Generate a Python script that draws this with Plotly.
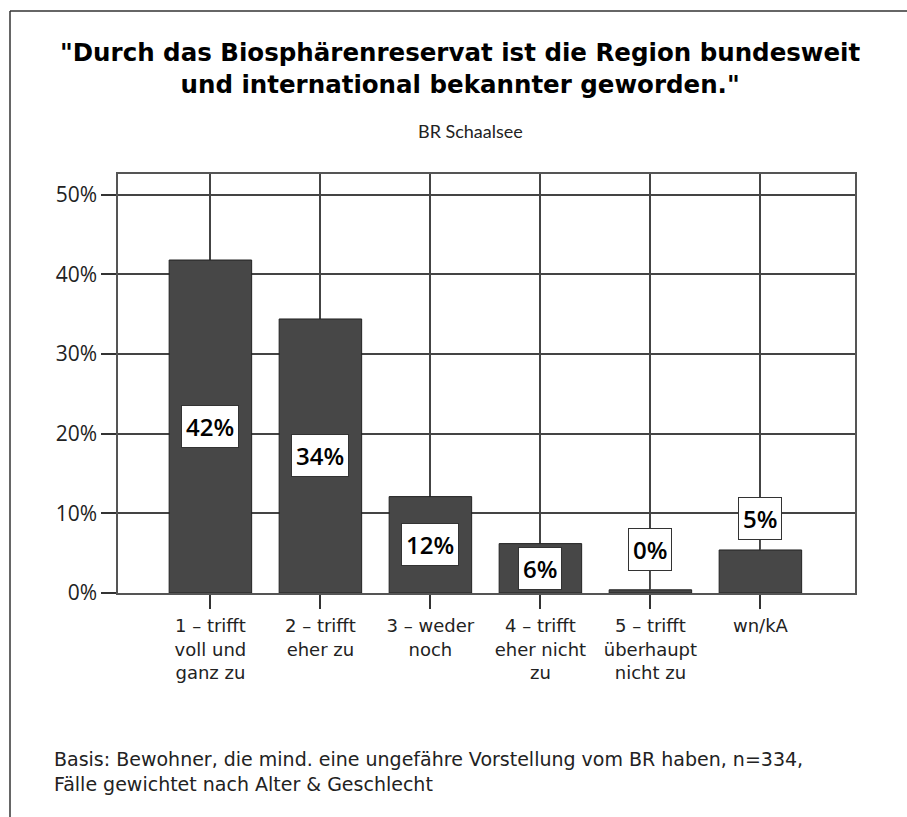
import plotly.graph_objects as go

categories = ["1 – trifft<br>voll und<br>ganz zu", "2 – trifft<br>eher zu", "3 – weder<br>noch",
              "4 – trifft<br>eher nicht<br>zu", "5 – trifft<br>überhaupt<br>nicht zu", "wn/kA"]
values = [41.8, 34.4, 12.1, 6.2, 0.4, 5.4]
labels = ["42%", "34%", "12%", "6%", "0%", "5%"]
y_ticks = [0, 10, 20, 30, 40, 50]
y_ticktext = ["0%", "10%", "20%", "30%", "40%", "50%"]
title_text = "\"Durch das Biosphärenreservat ist die Region bundesweit<br>und international bekannter geworden.\""
subtitle = "BR Schaalsee"
footer_text = ("Basis: Bewohner, die mind. eine ungefähre Vorstellung vom BR haben, n=334,<br>"
               "Fälle gewichtet nach Alter & Geschlecht")

W, H = 907, 817
L, R, T, B = 118, 855, 174, 593
FONT = "Open Sans"
WIDE = "DejaVu Sans"


def px(x):
    return (x - L) / (R - L)


def py(y):
    return (B - y) / (B - T)


xs = list(range(len(categories)))

fig = go.Figure()
fig.add_trace(go.Bar(
    x=xs, y=values, width=0.75,
    marker=dict(color="#474747", line=dict(color="#222222", width=1)),
    hoverinfo="skip",
))

annotations = []
lab_font = dict(family=FONT, size=24, color="black", weight=600)
for i, (v, lab) in enumerate(zip(values, labels)):
    if v >= 6:
        annotations.append(dict(x=i, y=v / 2, xref="x", yref="y", text=lab, showarrow=False,
                                font=lab_font, bgcolor="white", bordercolor="#333333",
                                borderwidth=1, borderpad=4))
    else:
        annotations.append(dict(x=i, y=v, xref="x", yref="y", text=lab, showarrow=True,
                                arrowhead=0, arrowwidth=1, arrowcolor="#555555",
                                ax=0, ay=-40 if v < 1 else -31,
                                font=lab_font, bgcolor="white", bordercolor="#333333",
                                borderwidth=1, borderpad=4))

annotations.append(dict(x=px(460), y=py(68), xref="paper", yref="paper", text=title_text,
                        showarrow=False, align="center", xanchor="center", yanchor="middle",
                        font=dict(family=WIDE, size=24.5, color="black", weight="bold")))
annotations.append(dict(x=px(470), y=py(131), xref="paper", yref="paper", text=subtitle,
                        showarrow=False, xanchor="center", yanchor="middle",
                        font=dict(family="Lato", size=18, color="#222222")))
annotations.append(dict(x=px(52), y=py(771), xref="paper", yref="paper", text=footer_text,
                        showarrow=False, align="left", xanchor="left", yanchor="middle",
                        font=dict(family=WIDE, size=19, color="#222222")))

shapes = [
    dict(type="line", xref="paper", yref="paper", x0=px(10), x1=px(907), y0=py(11), y1=py(11),
         line=dict(color="#333333", width=1.5)),
    dict(type="line", xref="paper", yref="paper", x0=px(10), x1=px(10), y0=py(11), y1=py(817),
         line=dict(color="#333333", width=1.5)),
]

fig.update_layout(
    width=W, height=H,
    margin=dict(l=L, r=W - R, t=T, b=H - B),
    paper_bgcolor="white", plot_bgcolor="white",
    showlegend=False,
    annotations=annotations,
    shapes=shapes,
    font=dict(family=FONT, color="#222222"),
    xaxis=dict(
        range=[-0.84, 5.86], tickmode="array", tickvals=xs, ticktext=categories,
        showgrid=True, gridcolor="#444444", gridwidth=1.5,
        showline=True, linecolor="#555555", linewidth=1.5, mirror=True,
        ticks="outside", ticklen=14, tickwidth=1.5, tickcolor="#333333",
        tickfont=dict(family=WIDE, size=18, color="#222222"), tickangle=0,
        ticklabelstandoff=2,
        zeroline=False, fixedrange=True,
    ),
    yaxis=dict(
        range=[0, 52.6], tickmode="array", tickvals=y_ticks, ticktext=y_ticktext,
        showgrid=True, gridcolor="#444444", gridwidth=1.5,
        showline=True, linecolor="#555555", linewidth=1.5, mirror=True,
        ticks="outside", ticklen=15, tickwidth=1.5, tickcolor="#333333",
        tickfont=dict(family=FONT, size=21, color="#222222"),
        zeroline=False, fixedrange=True,
    ),
)

fig.write_html("out.html", config={"displayModeBar": False},
               post_script="document.body.style.margin='0px';")
